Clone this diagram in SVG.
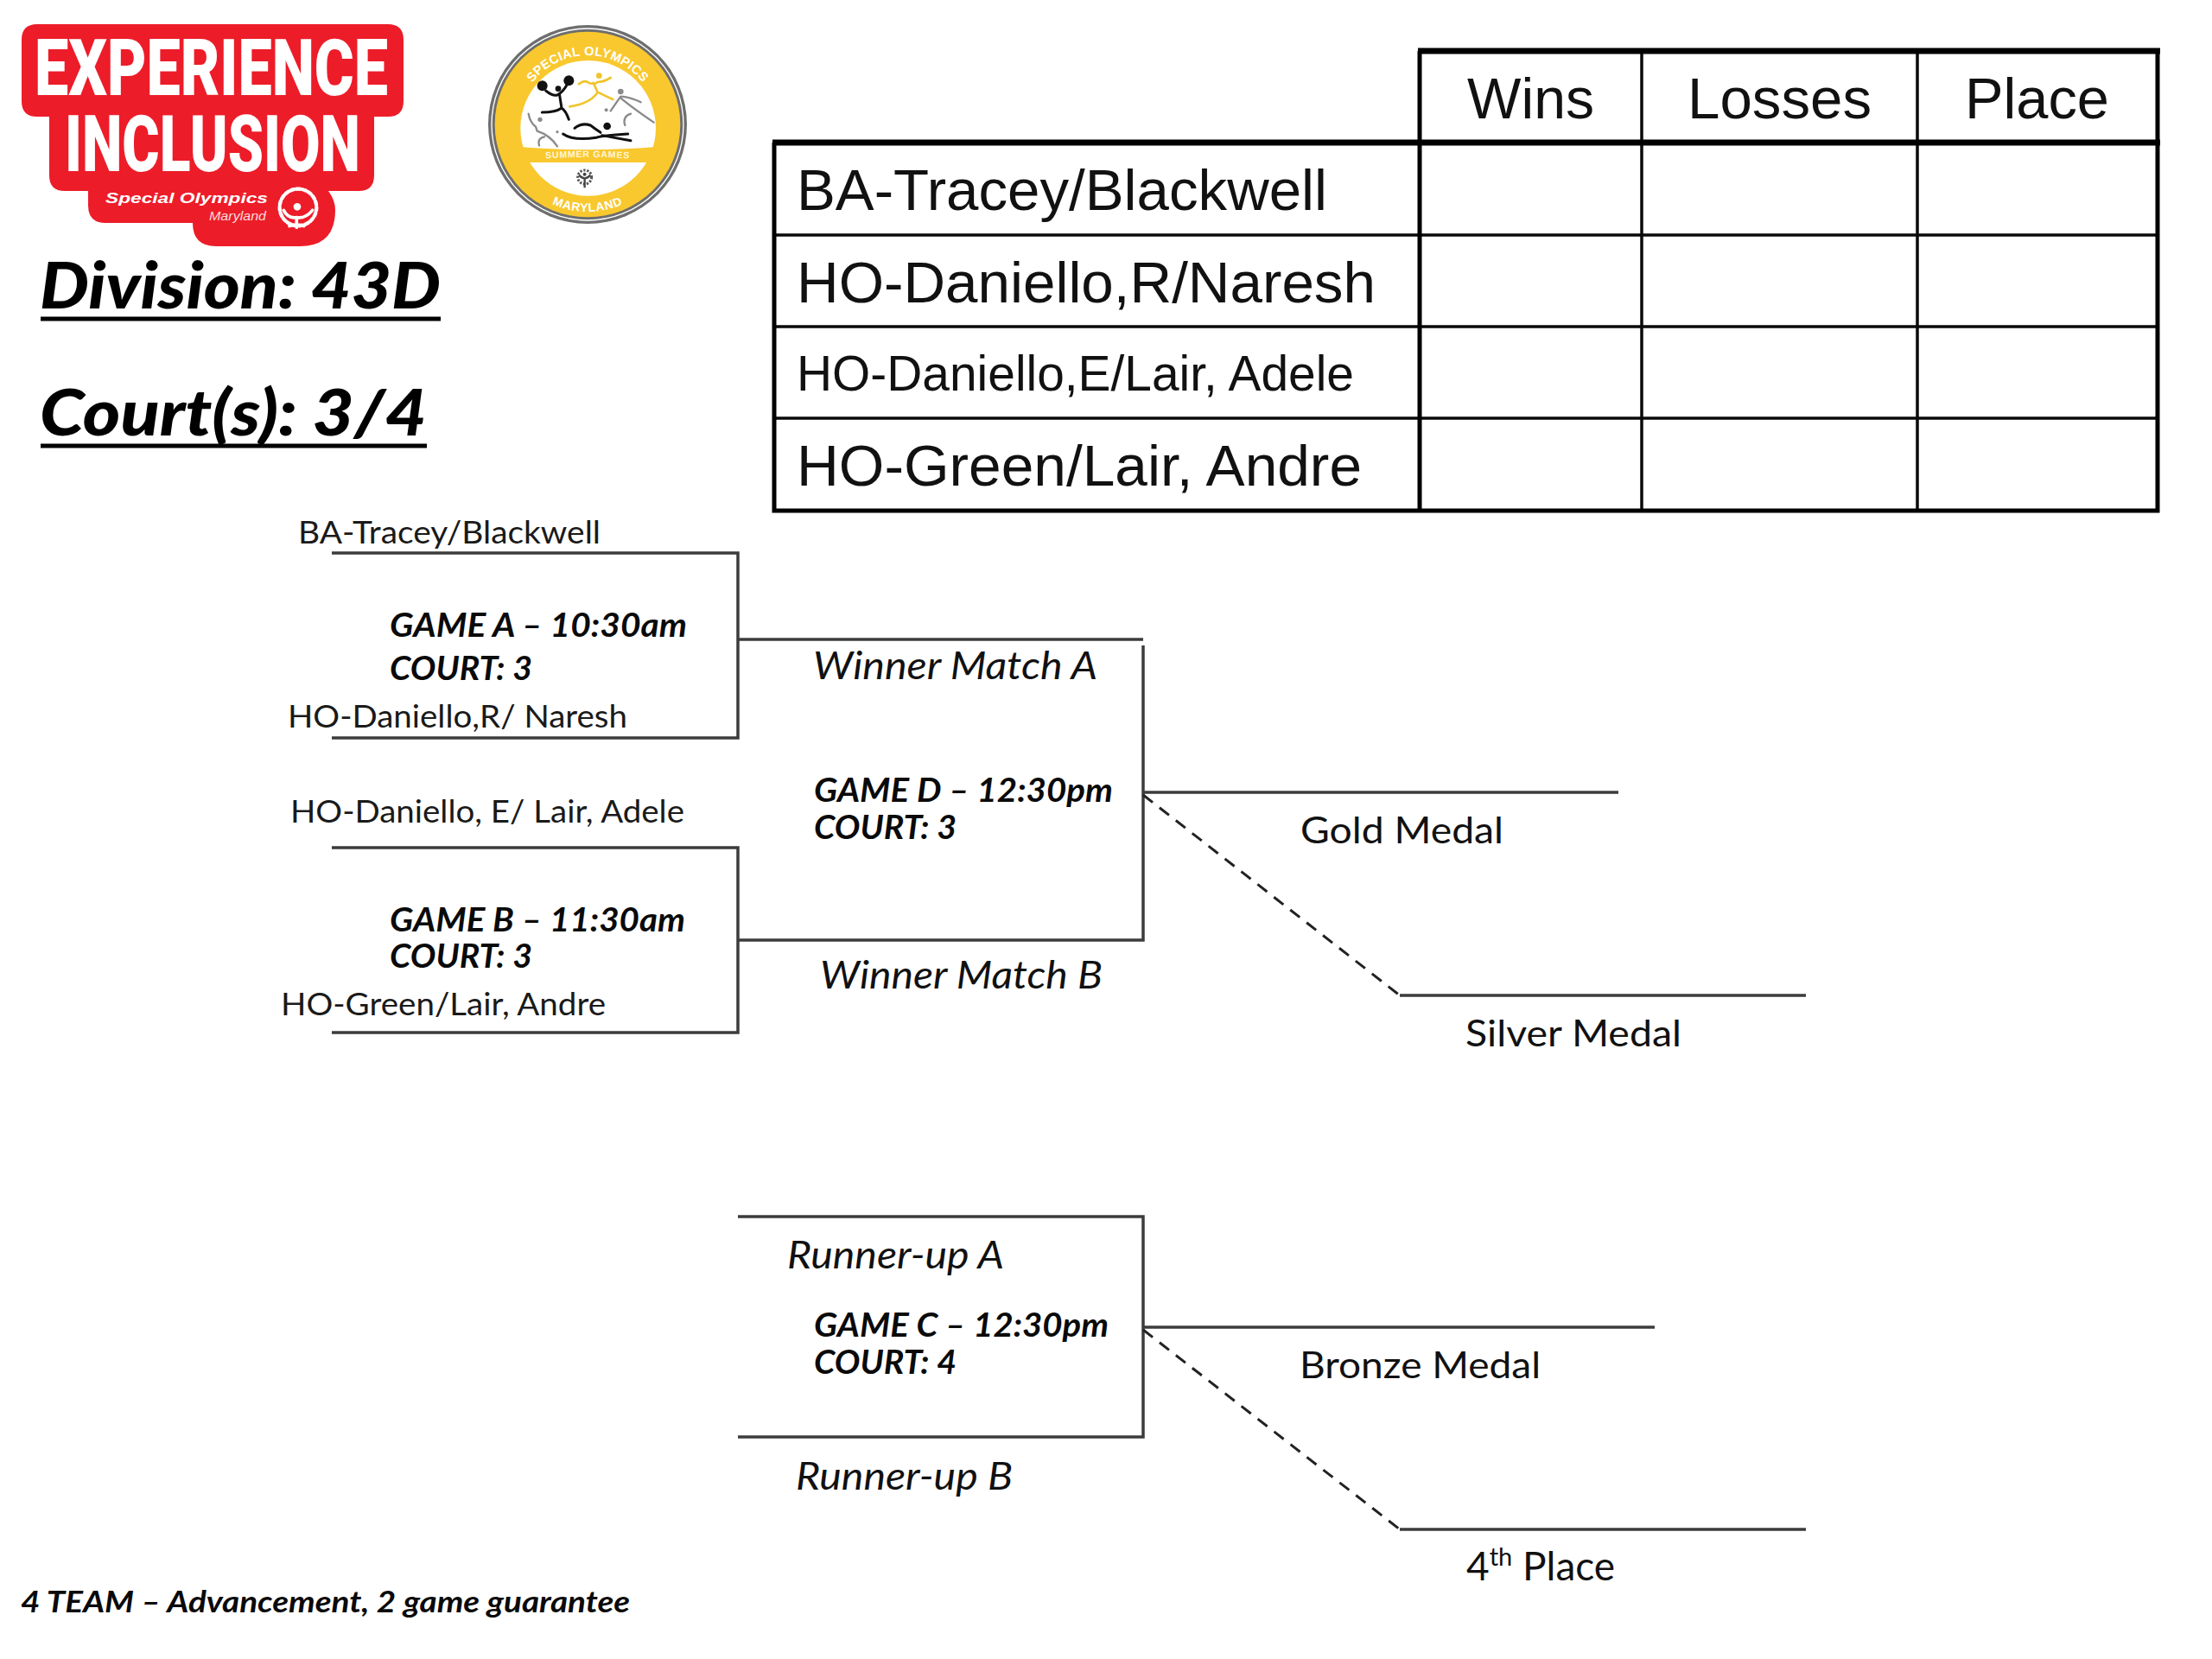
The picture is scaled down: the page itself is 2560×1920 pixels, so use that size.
<svg xmlns="http://www.w3.org/2000/svg" width="2560" height="1920" viewBox="0 0 2560 1920">
<style>
text{fill:#0a0a0a;font-family:"Lato","Open Sans",sans-serif}
.n{font-size:36px;fill:#1a1a1a}
.m{font-size:43px;fill:#111}
.i{font-size:44px;font-style:italic;fill:#111}
.g{font-size:38px;font-style:italic;font-weight:700}
.h{font-size:75px;font-style:italic;font-weight:900;fill:#000}
.a{font-family:"Liberation Sans",Arial,sans-serif;font-size:66px;fill:#111}
.lo{font-family:"Roboto","Liberation Sans",sans-serif;font-weight:900;font-size:91px;fill:#fff}
.l{fill:none;stroke:#3c3c3c;stroke-width:3.5}
.d{fill:none;stroke:#222;stroke-width:3;stroke-dasharray:14 10}
.tl{fill:none;stroke:#0a0a0a;stroke-width:3.5}
.tb{fill:none;stroke:#000;stroke-width:5}
.tk{fill:none;stroke:#000;stroke-width:7}
.fk{fill:none;stroke:#111;stroke-width:9;stroke-linecap:round;stroke-linejoin:round}
.fy{fill:none;stroke:#f0c42c;stroke-width:8;stroke-linecap:round;stroke-linejoin:round}
.fg{fill:none;stroke:#8a8a8a;stroke-width:7;stroke-linecap:round;stroke-linejoin:round}
.bd{font-family:"Liberation Sans",Arial,sans-serif;font-weight:700;fill:#fff;text-anchor:middle}
</style>
<rect width="2560" height="1920" fill="#fff"/>

<g id="logo-experience-inclusion">
<path d="M43 28H449Q467 28 467 46V117Q467 135 449 135H433V203Q433 221 415 221H380Q388 232 388 243Q388 285 347 285H250Q223 285 223 258H122Q102 258 102 238V221H75Q57 221 57 203V135H43Q25 135 25 117V46Q25 28 43 28Z" fill="#ed1c29"/>
<text class="lo" x="40" y="110" textLength="409" lengthAdjust="spacingAndGlyphs">EXPERIENCE</text>
<text class="lo" x="75" y="198" textLength="342" lengthAdjust="spacingAndGlyphs">INCLUSION</text>
<text x="122" y="235" textLength="188" lengthAdjust="spacingAndGlyphs" style="font-family:'Liberation Sans',Arial,sans-serif;font-weight:700;font-style:italic;font-size:17px;fill:#fff">Special Olympics</text>
<text x="242" y="255" textLength="66" lengthAdjust="spacingAndGlyphs" style="font-family:'Liberation Sans',Arial,sans-serif;font-style:italic;font-size:15px;fill:#fbdcdc">Maryland</text>
<g transform="translate(0,10) scale(.3333)" fill="none" stroke="#fff" stroke-linecap="round">
<circle cx="1032" cy="688" r="13" fill="#fff" stroke="none"/>
<path d="M985 700Q1000 730 1030 725Q1060 730 1085 700M1030 725V760M1005 755Q1030 745 1055 755" stroke-width="11"/>
<circle cx="1035" cy="690" r="64" stroke-width="13" stroke-dasharray="12 9"/>
</g>
</g>

<g id="badge-summer-games" transform="translate(550,10) scale(.3333)">
<circle cx="390" cy="402" r="345" fill="#6e6e6e"/>
<circle cx="390" cy="402" r="333" fill="none" stroke="#fff" stroke-width="4"/>
<circle cx="390" cy="402" r="322" fill="#f9c82e"/>
<circle cx="392" cy="415" r="235" fill="#fff"/>
<path d="M130 478Q390 502 650 478V534H130Z" fill="#f9c82e"/>
<defs>
<path id="bt" d="M150 402A240 240 0 1 1 630 402"/>
<path id="bb" d="M87 402A303 303 0 0 0 693 402"/>
<path id="bs" d="M225 522Q390 510 555 522"/>
</defs>
<text class="bd" font-size="44" letter-spacing="1"><textPath href="#bt" startOffset="50%">SPECIAL OLYMPICS</textPath></text>
<text class="bd" font-size="42" letter-spacing="2"><textPath href="#bb" startOffset="50%">MARYLAND</textPath></text>
<text class="bd" font-size="32" letter-spacing="2" style="fill:#fff6d8"><textPath href="#bs" startOffset="50%">SUMMER GAMES</textPath></text>
<circle cx="233" cy="268" r="18" fill="#111"/><circle cx="325" cy="250" r="18" fill="#111"/><circle cx="288" cy="278" r="10" fill="#111"/>
<path class="fk" d="M245 285Q270 305 285 300Q305 290 320 262M292 295L300 345M300 345Q280 360 232 360M300 345Q315 355 325 385"/>
<circle cx="430" cy="233" r="10" fill="#f0c42c"/>
<path class="fy" d="M360 262Q380 245 395 258Q415 265 425 255Q445 255 470 240M410 258L425 290Q445 300 478 315M425 290Q400 330 328 340"/>
<circle cx="505" cy="288" r="10" fill="#8a8a8a"/><circle cx="455" cy="352" r="6" fill="#8a8a8a"/>
<path class="fg" d="M505 305L470 355M510 305Q545 310 575 325M505 310Q540 340 620 395M540 365Q510 375 520 405"/>
<circle cx="285" cy="428" r="5" fill="#8a8a8a"/><circle cx="225" cy="385" r="8" fill="#8a8a8a"/>
<path class="fg" d="M185 365Q190 395 210 410L215 425Q260 440 285 478M240 445Q215 450 222 475"/>
<circle cx="458" cy="408" r="13" fill="#111"/>
<path class="fk" d="M345 415Q370 395 400 405Q420 420 435 430M305 435Q340 460 420 448Q440 440 530 435M440 440Q490 450 540 458"/>
<circle cx="380" cy="585" r="24" fill="none" stroke="#555" stroke-width="9" stroke-dasharray="7 5"/>
<path d="M360 578Q380 600 400 578M380 590V622" fill="none" stroke="#444" stroke-width="7"/>
<circle cx="380" cy="575" r="6" fill="#444"/>
</g>

<g id="title">
<text class="h" x="46" y="357" textLength="464" lengthAdjust="spacingAndGlyphs">Division: 43D</text>
<path d="M47 369H510" stroke="#000" stroke-width="5"/>
<text class="h" x="46" y="504" textLength="448" lengthAdjust="spacingAndGlyphs">Court(s): 3/4</text>
<path d="M47 516H494" stroke="#000" stroke-width="5"/>
</g>

<g id="standings-table">
<path class="tl" d="M1900 59V591M2219 59V591M896 272H2497M896 378H2497M896 484H2497"/>
<path class="tb" d="M1643 59V591M896 165V591H2497V59"/>
<path class="tk" d="M1641 59H2500M894 165H2500"/>
<text class="a" x="1698" y="137" textLength="147" lengthAdjust="spacingAndGlyphs">Wins</text>
<text class="a" x="1953" y="137" textLength="213" lengthAdjust="spacingAndGlyphs">Losses</text>
<text class="a" x="2274" y="137" textLength="167" lengthAdjust="spacingAndGlyphs">Place</text>
<text class="a" x="922" y="243" textLength="614" lengthAdjust="spacingAndGlyphs">BA-Tracey/Blackwell</text>
<text class="a" x="922" y="350" textLength="670" lengthAdjust="spacingAndGlyphs">HO-Daniello,R/Naresh</text>
<text class="a" x="922" y="452" textLength="645" lengthAdjust="spacingAndGlyphs" style="font-size:58px">HO-Daniello,E/Lair, Adele</text>
<text class="a" x="922" y="562" textLength="654" lengthAdjust="spacingAndGlyphs">HO-Green/Lair, Andre</text>
</g>

<g id="connectors">
<path class="l" d="M384 640H854V854H384"/>
<path class="l" d="M854 740H1323"/>
<path class="l" d="M384 981H854V1195H384"/>
<path class="l" d="M854 1088H1323V747"/>
<path class="l" d="M1323 917H1873"/>
<path class="d" d="M1323 920L1620 1152"/>
<path class="l" d="M1620 1152H2090"/>
<path class="l" d="M854 1408H1323V1663H854"/>
<path class="l" d="M1323 1536H1915"/>
<path class="d" d="M1323 1539L1620 1770"/>
<path class="l" d="M1620 1770H2090"/>
</g>

<g id="game-a">
<text class="n" x="345" y="629" textLength="350" lengthAdjust="spacingAndGlyphs">BA-Tracey/Blackwell</text>
<text class="g" x="451" y="737" textLength="344" lengthAdjust="spacingAndGlyphs">GAME A – 10:30am</text>
<text class="g" x="451" y="787" textLength="165" lengthAdjust="spacingAndGlyphs">COURT: 3</text>
<text class="n" x="333" y="842" textLength="393" lengthAdjust="spacingAndGlyphs">HO-Daniello,R/ Naresh</text>
</g>
<g id="game-b">
<text class="n" x="336" y="952" textLength="456" lengthAdjust="spacingAndGlyphs">HO-Daniello, E/ Lair, Adele</text>
<text class="g" x="451" y="1078" textLength="342" lengthAdjust="spacingAndGlyphs">GAME B – 11:30am</text>
<text class="g" x="451" y="1120" textLength="165" lengthAdjust="spacingAndGlyphs">COURT: 3</text>
<text class="n" x="325" y="1175" textLength="376" lengthAdjust="spacingAndGlyphs">HO-Green/Lair, Andre</text>
</g>
<g id="game-d">
<text class="i" x="941" y="786" textLength="329" lengthAdjust="spacingAndGlyphs">Winner Match A</text>
<text class="g" x="942" y="928" textLength="346" lengthAdjust="spacingAndGlyphs">GAME D – 12:30pm</text>
<text class="g" x="942" y="971" textLength="165" lengthAdjust="spacingAndGlyphs">COURT: 3</text>
<text class="i" x="949" y="1144" textLength="327" lengthAdjust="spacingAndGlyphs">Winner Match B</text>
</g>
<g id="game-c">
<text class="i" x="911" y="1468" textLength="251" lengthAdjust="spacingAndGlyphs">Runner-up A</text>
<text class="g" x="942" y="1547" textLength="341" lengthAdjust="spacingAndGlyphs">GAME C – 12:30pm</text>
<text class="g" x="942" y="1590" textLength="165" lengthAdjust="spacingAndGlyphs">COURT: 4</text>
<text class="i" x="921" y="1724" textLength="251" lengthAdjust="spacingAndGlyphs">Runner-up B</text>
</g>
<g id="places">
<text class="m" x="1505" y="976" textLength="235" lengthAdjust="spacingAndGlyphs">Gold Medal</text>
<text class="m" x="1696" y="1211" textLength="250" lengthAdjust="spacingAndGlyphs">Silver Medal</text>
<text class="m" x="1504" y="1595" textLength="279" lengthAdjust="spacingAndGlyphs">Bronze Medal</text>
<text class="m" x="1697" y="1829" style="font-size:46px">4<tspan dy="-17" style="font-size:29px">th</tspan><tspan dy="17"> Place</tspan></text>
</g>
<g id="footnote">
<text x="24" y="1866" textLength="705" lengthAdjust="spacingAndGlyphs" style="font-size:34px;font-style:italic;font-weight:700">4 TEAM – Advancement, 2 game guarantee</text>
</g>
</svg>
